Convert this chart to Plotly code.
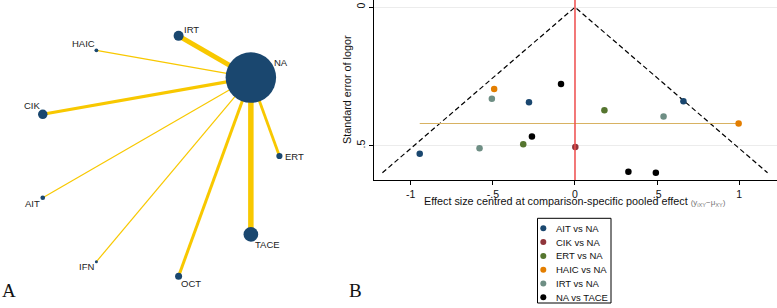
import math
import plotly.graph_objects as go

# ---------------- Panel A: network ----------------
nodes = ["ERT", "NA", "IRT", "HAIC", "CIK", "AIT", "IFN", "OCT", "TACE"]
node_size = [6.2, 50.5, 10, 3.8, 9.5, 4.7, 3.0, 7.0, 14.7]
edge_to = ["ERT", "IRT", "HAIC", "CIK", "AIT", "IFN", "OCT", "TACE"]
edge_width = [2.8, 4.8, 1.2, 3.2, 1.2, 1.2, 3.0, 5.5]

# ---------------- Panel B: comparison-adjusted funnel ----------------
comparisons = ["AIT vs NA", "CIK vs NA", "ERT vs NA", "HAIC vs NA", "IRT vs NA", "NA vs TACE"]
eff_AIT = [-0.28, 0.66, -0.945]
se_AIT = [0.343, 0.340, 0.529]
eff_CIK = [0.002]
se_CIK = [0.505]
eff_ERT = [0.179, -0.315]
se_ERT = [0.372, 0.495]
eff_HAIC = [-0.492, 0.996]
se_HAIC = [0.295, 0.420]
eff_IRT = [-0.506, 0.539, -0.581]
se_IRT = [0.331, 0.395, 0.509]
eff_TACE = [-0.085, -0.262, 0.325, 0.492]
se_TACE = [0.277, 0.467, 0.594, 0.598]
hline_se = 0.42
x_ticks = [-1, -0.5, 0, 0.5, 1]
x_ticklabels = ["-1", "-.5", "0", ".5", "1"]
y_ticks = [0, 0.5]
y_ticklabels = ["0", ".5"]

series_eff = [eff_AIT, eff_CIK, eff_ERT, eff_HAIC, eff_IRT, eff_TACE]
series_se = [se_AIT, se_CIK, se_ERT, se_HAIC, se_IRT, se_TACE]
colors = ["#1a476f", "#90353b", "#55752f", "#e37e00", "#6e8e84", "#000000"]

FONT = "Arial, Liberation Sans, sans-serif"
W, H = 777, 308
fig = go.Figure()

# circle layout for network
angles = {n: math.radians(40 * i) for i, n in enumerate(nodes)}
pos = {n: (math.cos(a), math.sin(a)) for n, a in angles.items()}
EDGE = "#f8c800"
NODE = "#1a476f"
for tgt, w in zip(edge_to, edge_width):
    x0, y0 = pos["NA"]
    x1, y1 = pos[tgt]
    fig.add_trace(go.Scatter(x=[x0, x1], y=[y0, y1], mode="lines",
                             line=dict(color=EDGE, width=w), xaxis="x", yaxis="y",
                             hoverinfo="skip", showlegend=False))
fig.add_trace(go.Scatter(x=[pos[n][0] for n in nodes], y=[pos[n][1] for n in nodes],
                         mode="markers",
                         marker=dict(color=NODE, size=node_size, opacity=1, line=dict(width=0)),
                         xaxis="x", yaxis="y", showlegend=False, text=nodes, hoverinfo="text"))

label_off = {"IRT": (13, -6), "NA": (30, -15.5), "HAIC": (-12.7, -6.4), "CIK": (-10.7, -8.7),
             "AIT": (-10.7, 5.6), "IFN": (-10, 5), "OCT": (12.3, 7.7), "TACE": (16.7, 10.5),
             "ERT": (14.7, 0.7)}
annotations = []
for n in nodes:
    dx, dy = label_off[n]
    annotations.append(dict(x=pos[n][0], y=pos[n][1], xref="x", yref="y", text=n,
                            showarrow=False, xshift=dx, yshift=-dy,
                            font=dict(family=FONT, size=9.5, color="#222")))

# funnel plot
semax = max(max(s) for s in series_se)
fig.add_trace(go.Scatter(x=[-1.96 * semax, 0, 1.96 * semax], y=[semax, 0, semax], mode="lines",
                         line=dict(color="black", width=1.2, dash="5px,3px"),
                         xaxis="x2", yaxis="y2", hoverinfo="skip", showlegend=False))
allx = [v for s in series_eff for v in s]
fig.add_trace(go.Scatter(x=[min(allx), max(allx)], y=[hline_se, hline_se], mode="lines",
                         line=dict(color="#d8b262", width=1.2),
                         xaxis="x2", yaxis="y2", hoverinfo="skip", showlegend=False))
for name, ex, se, c in zip(comparisons, series_eff, series_se, colors):
    fig.add_trace(go.Scatter(x=ex, y=se, mode="markers", name=name,
                             marker=dict(color=c, size=6.5, line=dict(width=0)),
                             xaxis="x2", yaxis="y2", showlegend=False))

shapes = [dict(type="line", xref="x2", yref="y2 domain", x0=0, x1=0, y0=0, y1=1,
               line=dict(color="#ee4b4b", width=1.5))]

# manual legend (pixel-coordinate overlay axis)
leg_top, leg_step = 228.3, 13.8
for i, (name, c) in enumerate(zip(comparisons, colors)):
    yy = leg_top + i * leg_step
    fig.add_trace(go.Scatter(x=[543.3], y=[yy], mode="markers",
                             marker=dict(color=c, size=6, line=dict(width=0)),
                             xaxis="x3", yaxis="y3", hoverinfo="skip", showlegend=False))
    annotations.append(dict(x=554, y=yy, xref="x3", yref="y3", text=name, showarrow=False,
                            xanchor="left", yanchor="middle",
                            font=dict(family=FONT, size=9.5, color="#111")))
shapes.append(dict(type="rect", xref="x3", yref="y3", x0=537.5, x1=611, y0=218.3, y1=303,
                   line=dict(color="black", width=1), fillcolor="rgba(0,0,0,0)"))

# axis titles and panel letters
annotations.append(dict(x=575, y=201.8, xref="x3", yref="y3", showarrow=False,
                        text="Effect size centred at comparison-specific pooled effect "
                             "<span style='font-size:8px;color:#777'>(y<sub>iXY</sub>−μ<sub>XY</sub>)</span>",
                        font=dict(family=FONT, size=10.8, color="#111")))
annotations.append(dict(x=347, y=90, xref="x3", yref="y3", showarrow=False, textangle=-90,
                        text="Standard error of logor",
                        font=dict(family=FONT, size=10.8, color="#111")))
annotations.append(dict(x=9, y=290, xref="x3", yref="y3", showarrow=False, text="A",
                        font=dict(family="Liberation Serif, serif", size=19, color="#111")))
annotations.append(dict(x=355.5, y=290, xref="x3", yref="y3", showarrow=False, text="B",
                        font=dict(family="Liberation Serif, serif", size=19, color="#111")))

cx, cy, R = 157.4, 156.0, 122.0
xA = 350
fig.update_layout(
    width=W, height=H, margin=dict(l=0, r=0, t=0, b=0),
    paper_bgcolor="white", plot_bgcolor="rgba(0,0,0,0)", showlegend=False,
    xaxis=dict(domain=[0, xA / W], range=[-cx / R, (xA - cx) / R], visible=False, fixedrange=True),
    yaxis=dict(domain=[0, 1], range=[(cy - H) / R, cy / R], visible=False, fixedrange=True),
    xaxis2=dict(domain=[374.3 / W, 1], range=[-1.2215, 1.2295], anchor="y2",
                tickvals=x_ticks, ticktext=x_ticklabels, ticks="outside", ticklen=4,
                tickcolor="black", showline=True, linecolor="black", linewidth=1,
                showgrid=False, zeroline=False,
                tickfont=dict(family=FONT, size=10.5, color="#111")),
    yaxis2=dict(domain=[1 - 180 / H, 1], range=[0.624, -0.026], anchor="x2",
                tickvals=y_ticks, ticktext=y_ticklabels, ticks="outside", ticklen=4,
                tickcolor="black", showline=True, linecolor="black", linewidth=1,
                showgrid=True, gridcolor="#ececec", gridwidth=1, zeroline=False,
                tickangle=-90, tickfont=dict(family=FONT, size=10.5, color="#111")),
    xaxis3=dict(domain=[0, 1], range=[0, W], visible=False, anchor="y3", fixedrange=True),
    yaxis3=dict(domain=[0, 1], range=[H, 0], visible=False, anchor="x3", fixedrange=True),
    shapes=shapes, annotations=annotations,
)
fig.write_html("out.html", config={"displayModeBar": False},
               post_script="document.body.style.margin='0';document.body.style.overflow='hidden';")
